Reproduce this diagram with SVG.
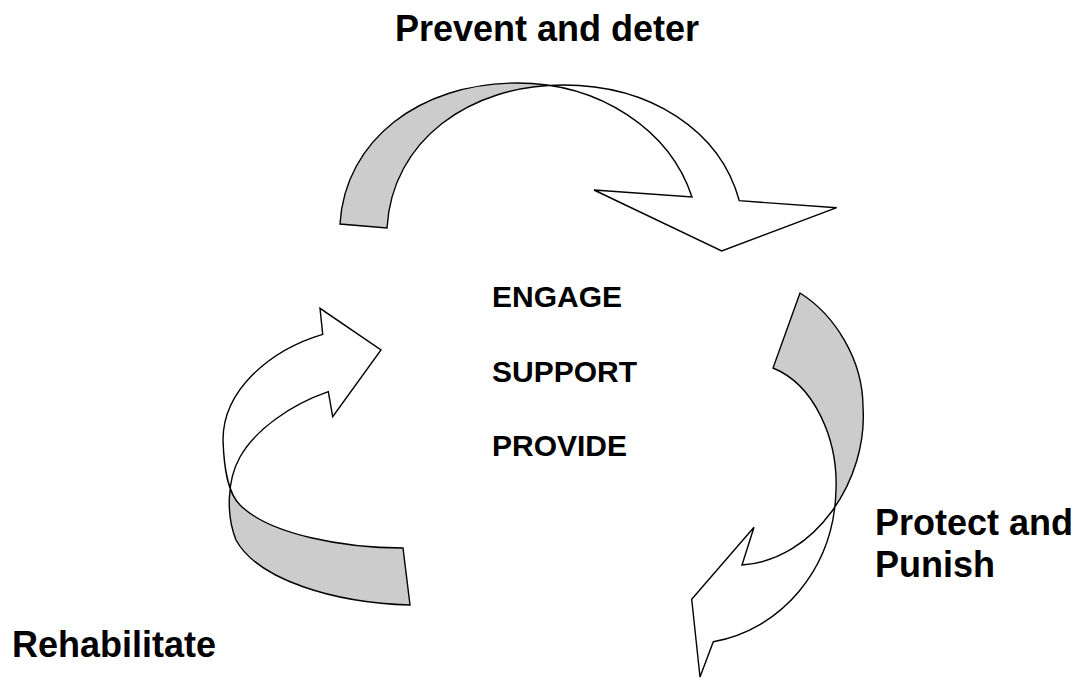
<svg xmlns="http://www.w3.org/2000/svg" width="1081" height="678" viewBox="0 0 1081 678">
<style>
.lbl{font-family:"Liberation Sans",Arial,sans-serif;font-weight:bold;font-size:36px;fill:#000}
.mid{font-family:"Liberation Sans",Arial,sans-serif;font-weight:bold;font-size:30px;fill:#000}
.band{fill:#cccccc;stroke:none}
.edge{fill:none;stroke:#000;stroke-width:1.4;stroke-linejoin:miter}
</style>
<defs>
<clipPath id="cTop"><rect x="0" y="0" width="548" height="678"/></clipPath>
<clipPath id="cRight"><rect x="600" y="0" width="481" height="505"/></clipPath>
<clipPath id="cLeft"><rect x="0" y="490" width="600" height="188"/></clipPath>
<path id="pTop" d="M340,224 C345,140 420,83 517,83 C600,83 670,130 692,197 L594,190 L721.7,251 L836.7,207.7 L739.3,200.7 C720,130 650,85 563,85 C470,85 392,140 387,228 Z"/>
<path id="pRight" d="M800,293 C835,315 863,360 863,407 C868,480 815,560 742,565 L754,527.3 L691.7,599.3 L700,677 L713.3,641.7 C780,630 834,570 836,490 C838,440 815,385 773,368 Z"/>
<path id="pLeft" d="M410,605 C335,603 258,580 236,540 C226,515 227,480 240,457 C255,430 290,405 328.3,391.7 L332.7,416.7 L381,350 L320,308.3 L322.7,334.3 C270,350 223,390 223,440 C224,470 228,493 240,505 C270,535 345,548 403,548 Z"/>
</defs>
<rect width="1081" height="678" fill="#fff"/>
<g id="connectors">
<g id="arrow-top">
<use href="#pTop" class="band" clip-path="url(#cTop)"/>
<use href="#pTop" class="edge"/>
</g>
<g id="arrow-right">
<use href="#pRight" class="band" clip-path="url(#cRight)"/>
<use href="#pRight" class="edge"/>
</g>
<g id="arrow-left">
<use href="#pLeft" class="band" clip-path="url(#cLeft)"/>
<use href="#pLeft" class="edge"/>
</g>
</g>
<g id="node-prevent"><text class="lbl" x="395" y="41">Prevent and deter</text></g>
<g id="node-protect"><text class="lbl" x="875" y="535">Protect and</text><text class="lbl" x="875" y="577">Punish</text></g>
<g id="node-rehab"><text class="lbl" x="12" y="657">Rehabilitate</text></g>
<g id="node-center">
<text class="mid" x="492" y="307">ENGAGE</text>
<text class="mid" x="492" y="382">SUPPORT</text>
<text class="mid" x="492" y="456">PROVIDE</text>
</g>
</svg>
